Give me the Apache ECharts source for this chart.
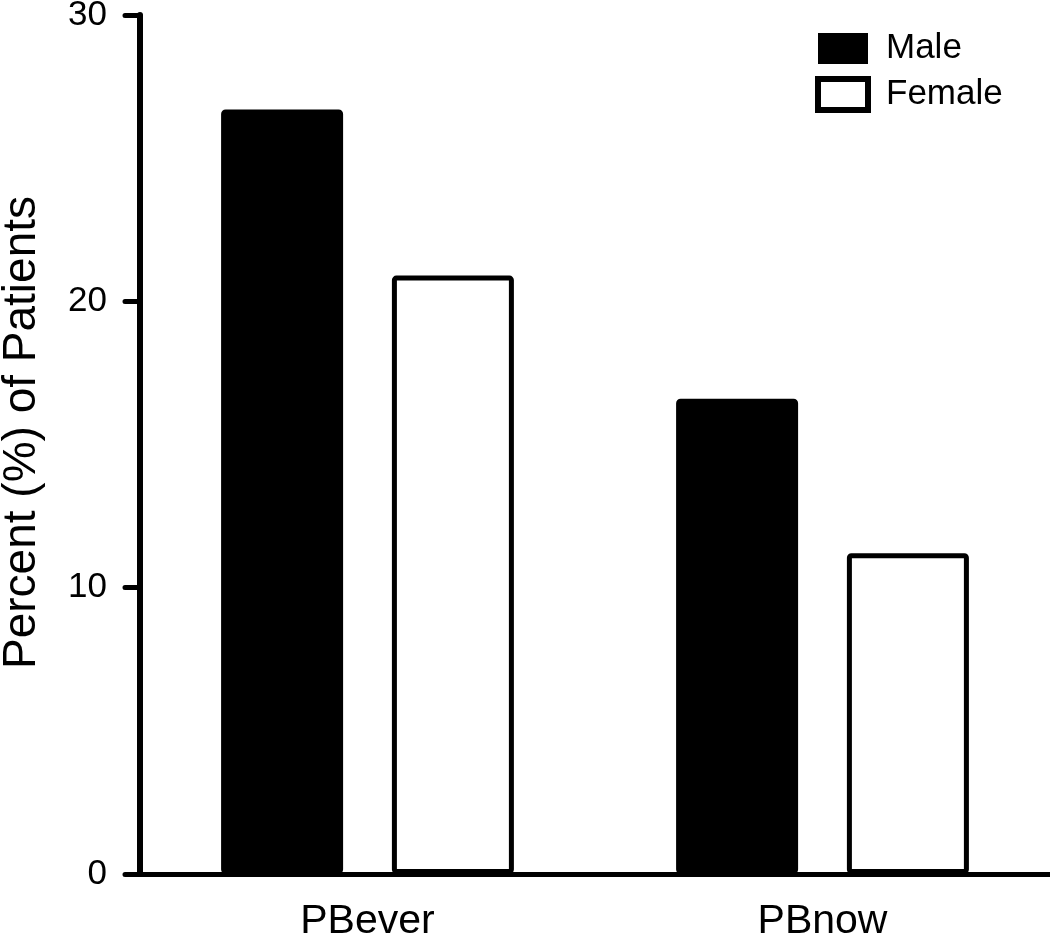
<!DOCTYPE html>
<html>
<head>
<meta charset="utf-8">
<script src="https://cdn.jsdelivr.net/npm/echarts@6/dist/echarts.min.js"></script>
<style>
  html, body { margin: 0; padding: 0; background: #fff; }
  #chart { width: 1050px; height: 936px; }
</style>
</head>
<body>
<div id="chart"></div>
<script>
const categories = ['PBever', 'PBnow'];
const maleValues = [26.7, 16.6];
const femaleValues = [20.9, 11.2];
const yTicks = [0, 10, 20, 30];
const yTitle = 'Percent (%) of Patients';
const seriesNames = ['Male', 'Female'];

const FONT = '"Liberation Sans", Arial, sans-serif';
const chart = echarts.init(document.getElementById('chart'), null, { renderer: 'canvas' });

chart.setOption({
  animation: false,
  backgroundColor: '#ffffff',
  textStyle: { fontFamily: FONT, color: '#000' },
  grid: { left: 140, right: 0, top: 15, bottom: 62, containLabel: false, outerBoundsMode: 'none' },
  legend: {
    orient: 'vertical',
    left: 815,
    top: 31,
    padding: 0,
    itemWidth: 50,
    itemHeight: 31,
    itemGap: 10,
    selectedMode: false,
    textStyle: { fontFamily: FONT, fontSize: 35, color: '#000', padding: [0, 0, 0, 13] },
    data: [
      { name: seriesNames[0], icon: 'rect', itemStyle: { color: '#000', borderColor: '#000', borderWidth: 0 } },
      { name: seriesNames[1], icon: 'rect', itemStyle: { color: '#fff', borderColor: '#000', borderWidth: 6 } }
    ]
  },
  xAxis: {
    type: 'category',
    data: categories,
    axisLine: { show: true, lineStyle: { color: '#000', width: 5, cap: 'round' } },
    axisTick: { show: false },
    axisLabel: { fontFamily: FONT, fontSize: 41, color: '#000', margin: 27 },
    splitLine: { show: false }
  },
  yAxis: {
    type: 'value',
    min: yTicks[0],
    max: yTicks[yTicks.length - 1],
    interval: 10,
    name: yTitle,
    nameLocation: 'middle',
    nameGap: 95,
    nameRotate: 90,
    nameTextStyle: { fontFamily: FONT, fontSize: 46, color: '#000', padding: [0, 0, 0, 24] },
    axisLine: { show: true, lineStyle: { color: '#000', width: 6, cap: 'round' } },
    axisTick: { show: true, inside: false, length: 15, lineStyle: { color: '#000', width: 5, cap: 'round' } },
    axisLabel: { fontFamily: FONT, fontSize: 35, color: '#000', margin: 33 },
    splitLine: { show: false }
  },
  series: [
    {
      name: seriesNames[0],
      type: 'bar',
      data: maleValues,
      barWidth: 122,
      barGap: '40%',
      itemStyle: { color: '#000', borderColor: '#000', borderWidth: 5, borderRadius: 2 }
    },
    {
      name: seriesNames[1],
      type: 'bar',
      data: femaleValues,
      barWidth: 122,
      barGap: '40%',
      itemStyle: { color: '#fff', borderColor: '#000', borderWidth: 5, borderRadius: 2 }
    }
  ]
});
</script>
</body>
</html>
